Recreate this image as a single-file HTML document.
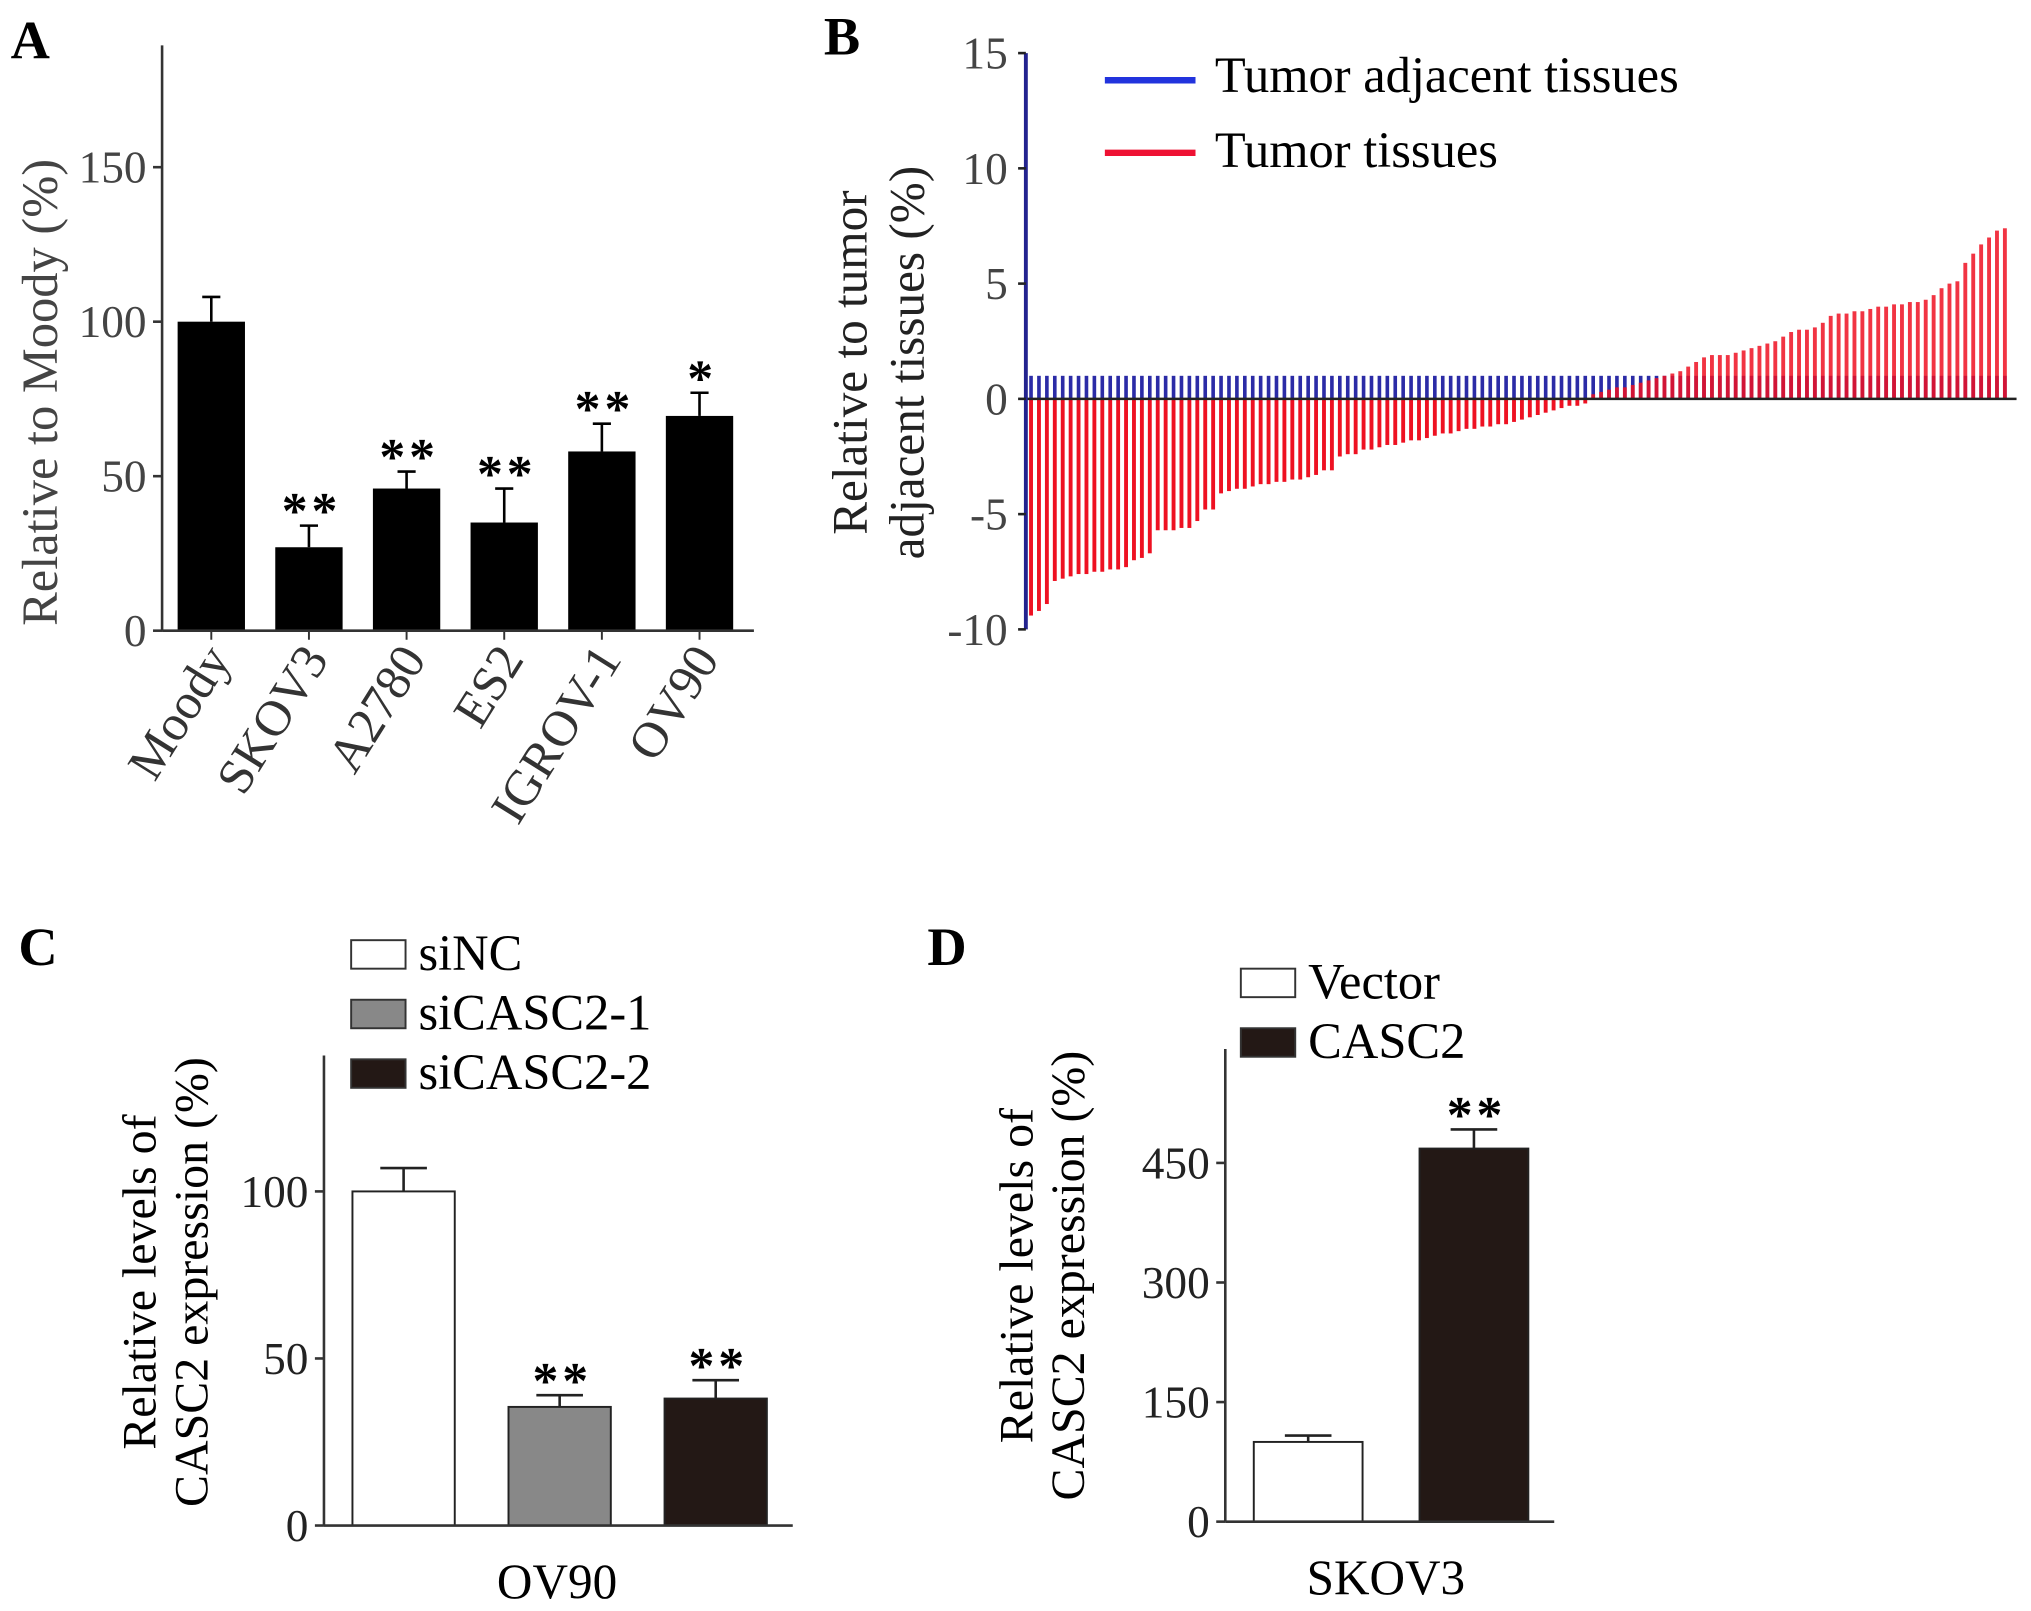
<!DOCTYPE html>
<html><head><meta charset="utf-8"><style>
html,body{margin:0;padding:0;background:#fff}
svg{display:block}
text{font-family:"Liberation Serif",serif}
</style></head><body>
<svg id="fig" width="2031" height="1611" viewBox="0 0 1568 1244" xmlns="http://www.w3.org/2000/svg">
<g id="pa"></g>
<g id="pb"></g>
<g id="pc"></g>
<g id="pd"></g>
</svg>
<script>
// Panel A data
const aCategories=["Moody","SKOV3","A2780","ES2","IGROV-1","OV90"];
const aValues=[100,27,46,35,58,69.5];
const aErrors=[8,7,5.5,11,9,7.5];
const aStars=["","**","**","**","**","*"];
const aTicks=[0,50,100,150];
// Panel B data
const bNeg=[-9.4,-9.2,-8.9,-7.9,-7.8,-7.7,-7.6,-7.6,-7.5,-7.5,-7.4,-7.4,-7.3,-7.0,-6.9,-6.7,-5.7,-5.7,-5.7,-5.6,-5.6,-5.3,-4.8,-4.8,-4.1,-4.0,-3.9,-3.9,-3.8,-3.7,-3.7,-3.6,-3.6,-3.5,-3.5,-3.4,-3.3,-3.1,-3.1,-2.5,-2.4,-2.4,-2.2,-2.2,-2.1,-2.0,-2.0,-1.9,-1.8,-1.8,-1.7,-1.6,-1.5,-1.5,-1.4,-1.3,-1.3,-1.2,-1.2,-1.1,-1.1,-1.0,-0.9,-0.8,-0.7,-0.6,-0.5,-0.4,-0.3,-0.3,-0.2];
const bPos=[0.2,0.3,0.4,0.5,0.5,0.6,0.7,0.8,0.9,1.0,1.1,1.2,1.4,1.6,1.8,1.9,1.9,1.9,2.0,2.1,2.2,2.3,2.4,2.5,2.7,2.9,3.0,3.0,3.1,3.3,3.6,3.7,3.7,3.8,3.8,3.9,4.0,4.0,4.1,4.1,4.2,4.2,4.3,4.5,4.8,5.0,5.1,5.9,6.3,6.7,7.0,7.3,7.4];
const bAdjacent=1;
const bTicks=[-10,-5,0,5,10,15];
// Panel C data
const cCategories=["siNC","siCASC2-1","siCASC2-2"];
const cValues=[100,35.5,38];
const cErrors=[7,3.5,5.5];
const cStars=["","**","**"];
const cTicks=[0,50,100];
// Panel D data
const dCategories=["Vector","CASC2"];
const dValues=[100,468];
const dErrors=[8,24];
const dStars=["","**"];
const dTicks=[0,150,300,450];

const NS="http://www.w3.org/2000/svg";
function mk(parent,tag,attrs,txt){const e=document.createElementNS(NS,tag);for(const k in attrs)e.setAttribute(k,attrs[k]);if(txt!==undefined)e.textContent=txt;parent.appendChild(e);return e;}
const STAR={'font-size':40,'font-weight':'bold','font-family':'Liberation Sans','letter-spacing':3,'text-anchor':'middle'};

// ---------- Panel A ----------
(function(){
const g=document.getElementById('pa');
const x0=125,yb=487,yt=35,xr=582;
const ys=v=>yb-v*(119.3/50);
const xc=i=>163+i*75.4;
const bw=52;
let t=mk(g,'text',{x:8,y:45,'font-size':42,'font-weight':'bold'},'A');

aCategories.forEach((c,i)=>{
  const v=aValues[i],e=aErrors[i],cx=xc(i);
  let l=mk(g,'line',{x1:cx,x2:cx,y1:ys(v),y2:ys(v+e),stroke:'#000','stroke-width':2});
  
  
  mk(g,'line',{x1:cx-7,x2:cx+7,y1:ys(v+e),y2:ys(v+e),stroke:'#000','stroke-width':2});
  let r=mk(g,'rect',{x:cx-bw/2,y:ys(v),width:bw,height:yb-ys(v),fill:'#000'});
  
  
  if(aStars[i]){let s=mk(g,'text',Object.assign({x:cx+2,y:ys(v+e)+2},STAR),aStars[i]);
    }
  mk(g,'line',{x1:cx,x2:cx,y1:yb,y2:yb+7,stroke:'#333','stroke-width':1.5});
  let lb=mk(g,'text',{x:cx+16,y:yb+22,'text-anchor':'end','font-size':39,fill:'#333',transform:`rotate(-58 ${cx+16} ${yb+22})`},c);
  
});
mk(g,'line',{x1:x0,x2:x0,y1:yt,y2:yb,stroke:'#333','stroke-width':2});
mk(g,'line',{x1:x0,x2:xr,y1:yb,y2:yb,stroke:'#333','stroke-width':2});
aTicks.forEach(v=>{mk(g,'line',{x1:x0-7,x2:x0,y1:ys(v),y2:ys(v),stroke:'#333','stroke-width':2});
  let tt=mk(g,'text',{x:x0-12,y:ys(v)+12,'text-anchor':'end','font-size':35,fill:'#444'},v);
  });
let yt2=mk(g,'text',{x:44,y:303,'text-anchor':'middle','font-size':39,fill:'#444',transform:'rotate(-90 44 303)'},'Relative to Moody (%)');

})();

// ---------- Panel B ----------
(function(){
const g=document.getElementById('pb');
const x0=792,yz=308,xr=1557;
const ys=v=>yz-v*17.8;
const vals=bNeg.concat(bPos);
const n=vals.length;
const step=(1547-795)/(n-1);
const xc=i=>796+i*step;
let t=mk(g,'text',{x:636,y:42,'font-size':42,'font-weight':'bold'},'B');

for(let i=0;i<n;i++){
  let b=mk(g,'rect',{x:xc(i)-1.4,y:ys(bAdjacent),width:2.8,height:yz-ys(bAdjacent),fill:'#2b2ba6'});
  
  
}
vals.forEach((v,i)=>{
  const y1=Math.min(ys(v),yz),h=Math.abs(ys(v)-yz);
  let r=mk(g,'rect',{x:xc(i)-1.5,y:y1,width:3,height:h,fill:'#ee1122','fill-opacity':v>0?0.85:1});
  
  
});
mk(g,'line',{x1:x0,x2:xr,y1:yz,y2:yz,stroke:'#222','stroke-width':2});
mk(g,'line',{x1:x0,x2:x0,y1:ys(15),y2:ys(-10),stroke:'#23238f','stroke-width':3});
bTicks.forEach(v=>{mk(g,'line',{x1:x0-6,x2:x0,y1:ys(v),y2:ys(v),stroke:'#222','stroke-width':2});
  let tt=mk(g,'text',{x:x0-14,y:ys(v)+12,'text-anchor':'end','font-size':35,fill:'#444'},v);
  });
let ya=mk(g,'text',{x:669,y:280,'text-anchor':'middle','font-size':38,fill:'#222',transform:'rotate(-90 669 280)'},'Relative to tumor');

let yb2=mk(g,'text',{x:713,y:280,'text-anchor':'middle','font-size':38,fill:'#222',transform:'rotate(-90 713 280)'},'adjacent tissues (%)');

let l1=mk(g,'line',{x1:853,x2:923,y1:62,y2:62,stroke:'#2233dd','stroke-width':5});

let t1=mk(g,'text',{x:938,y:71,'font-size':39},'Tumor adjacent tissues');

let l2=mk(g,'line',{x1:853,x2:923,y1:118,y2:118,stroke:'#ee1133','stroke-width':5});

let t2=mk(g,'text',{x:938,y:129,'font-size':39},'Tumor tissues');

})();

// ---------- Simple bar panels (C, D) ----------
function simplePanel(gid,letter,lx,ly,cats,vals,errs,stars,ticks,cfg){
  const g=document.getElementById(gid);
  const ys=v=>cfg.yb-v*cfg.k;
  const fills=cfg.fills;
  let t=mk(g,'text',{x:lx,y:ly,'font-size':42,'font-weight':'bold'},letter);
  
  cats.forEach((c,i)=>{
    const v=vals[i],e=errs[i],cx=cfg.x1+i*cfg.gap;
    mk(g,'line',{x1:cx,x2:cx,y1:ys(v),y2:ys(v+e),stroke:'#222','stroke-width':2});
    mk(g,'line',{x1:cx-18,x2:cx+18,y1:ys(v+e),y2:ys(v+e),stroke:'#222','stroke-width':2});
    let r=mk(g,'rect',{x:cx-cfg.bw/2,y:ys(v),width:cfg.bw,height:cfg.yb-ys(v),fill:fills[i],stroke:'#222','stroke-width':1.5});
    
    
    if(stars[i]){let s=mk(g,'text',Object.assign({x:cx+2,y:ys(v+e)+2},STAR),stars[i]);
      }
    let sw=mk(g,'rect',{x:cfg.legX,y:cfg.legY+i*cfg.legDy,width:42,height:22,fill:fills[i],stroke:'#333','stroke-width':1.5});
    
    let lt=mk(g,'text',{x:cfg.legX+52,y:cfg.legY+i*cfg.legDy+23,'font-size':39},c);
    
  });
  mk(g,'line',{x1:cfg.x0,x2:cfg.x0,y1:cfg.yt,y2:cfg.yb,stroke:'#333','stroke-width':2});
  mk(g,'line',{x1:cfg.x0,x2:cfg.xr,y1:cfg.yb,y2:cfg.yb,stroke:'#333','stroke-width':2});
  ticks.forEach(v=>{mk(g,'line',{x1:cfg.x0-7,x2:cfg.x0,y1:ys(v),y2:ys(v),stroke:'#333','stroke-width':2});
    let tt=mk(g,'text',{x:cfg.x0-12,y:ys(v)+12,'text-anchor':'end','font-size':35,fill:'#222'},v);
    });
  let xl=mk(g,'text',{x:cfg.xlX,y:cfg.yb+56,'text-anchor':'middle','font-size':38},cfg.xlabel);
  
  let a=mk(g,'text',{x:cfg.tX,y:cfg.tY,'text-anchor':'middle','font-size':37,transform:`rotate(-90 ${cfg.tX} ${cfg.tY})`},'Relative levels of');
  
  let b=mk(g,'text',{x:cfg.tX+40,y:cfg.tY,'text-anchor':'middle','font-size':37,transform:`rotate(-90 ${cfg.tX+40} ${cfg.tY})`},'CASC2 expression (%)');
  
}
simplePanel('pc','C',14,745,cCategories,cValues,cErrors,cStars,cTicks,
 {x0:250,yb:1178,yt:815,xr:612,k:129/50,x1:311.5,gap:120.5,bw:79,fills:['#fff','#888','#231815'],
  legX:271,legY:726,legDy:46,xlabel:'OV90',xlX:430,tX:120,tY:990});
simplePanel('pd','D',716,745,dCategories,dValues,dErrors,dStars,dTicks,
 {x0:946,yb:1175,yt:810,xr:1200,k:277/450,x1:1010,gap:128,bw:84,fills:['#fff','#231815'],
  legX:958,legY:748,legDy:46,xlabel:'SKOV3',xlX:1070,tX:797,tY:985});
</script>
</body></html>
